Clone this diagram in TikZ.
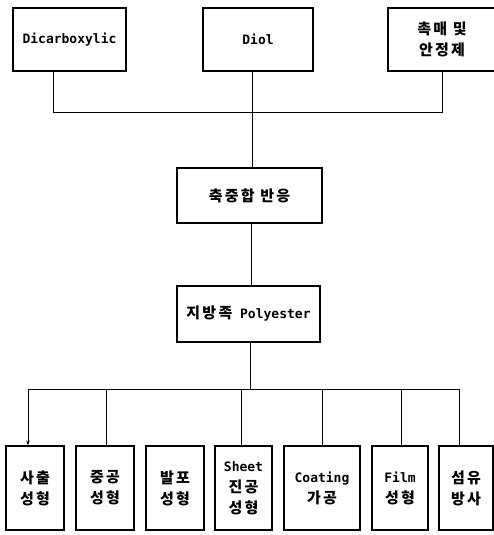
\documentclass[tikz,border=0pt]{standalone}
\usepackage{fontspec}
\setmainfont{DejaVu Sans Mono}
\newfontfamily\kr{Noto Sans CJK KR}[LetterSpace=15]
\usetikzlibrary{arrows.meta}
\newcommand{\K}[1]{{\kr\bfseries\fontsize{15}{21}\selectfont #1}}
\begin{document}
\begin{tikzpicture}[x=1pt,y=-1pt,
  box/.style={draw,line width=1.2pt,inner sep=0pt,align=center,
    font=\fontsize{13}{21}\selectfont\bfseries},
  conn/.style={line width=0.7pt},
  tip/.style={-{Stealth[length=5pt,width=3.5pt]}}]
\useasboundingbox (0,0) rectangle (494,535);
% top row
\node[box,minimum width=113pt,minimum height=63pt] (dic) at (69.5,39.5) {Dicarboxylic};
\node[box,minimum width=110pt,minimum height=63pt] (diol) at (258,39.5) {Diol};
\node[box,minimum width=108pt,minimum height=63pt] (cat) at (442,39.5) {\K{촉매 및}\\\K{안정제}};
% middle
\node[box,minimum width=145pt,minimum height=55pt] (react) at (249.5,195.5) {\K{축중합 반응}};
\node[box,minimum width=143pt,minimum height=56pt] (poly) at (248.5,314) {\K{지방족} Polyester};
% bottom row
\node[box,minimum width=58pt,minimum height=84pt] (b1) at (35,488) {\K{사출}\\\K{성형}};
\node[box,minimum width=58pt,minimum height=84pt] (b2) at (105,488) {\K{중공}\\\K{성형}};
\node[box,minimum width=58pt,minimum height=84pt] (b3) at (175,488) {\K{발포}\\\K{성형}};
\node[box,minimum width=57pt,minimum height=84pt] (b4) at (243.5,488) {Sheet\\\K{진공}\\\K{성형}};
\node[box,minimum width=76pt,minimum height=84pt] (b5) at (322,488) {Coating\\\K{가공}};
\node[box,minimum width=56pt,minimum height=84pt] (b6) at (400,488) {Film\\\K{성형}};
\node[box,minimum width=54pt,minimum height=84pt] (b7) at (466,488) {\K{섬유}\\\K{방사}};
% bus coordinates
\coordinate (topbus) at (0,112);
\coordinate (botbus) at (0,389);
% top connectors
\draw[conn] ([xshift=-16.5pt]dic.south) |- (topbus -| cat.south) -- (cat.south);
\draw[conn] ([xshift=-6pt]diol.south) -- ([xshift=-6pt]diol.south |- react.north);
\draw[conn] ([xshift=1.5pt]react.south) -- ([xshift=1.5pt]react.south |- poly.north);
% bottom connectors
\draw[conn] ([xshift=1.5pt]poly.south) -- ([xshift=1.5pt]poly.south |- botbus);
\draw[conn] ([xshift=-7pt]b1.north |- botbus) -- ([xshift=-6pt]b7.north |- botbus);
\draw[conn,tip] ([xshift=-7pt]b1.north |- botbus) -- ([xshift=-7pt]b1.north);
\draw[conn] ([xshift=1pt]b2.north |- botbus) -- ([xshift=1pt]b2.north);
\draw[conn] ([xshift=-2.5pt]b4.north |- botbus) -- ([xshift=-2.5pt]b4.north);
\draw[conn] (b5.north |- botbus) -- (b5.north);
\draw[conn] ([xshift=1pt]b6.north |- botbus) -- ([xshift=1pt]b6.north);
\draw[conn] ([xshift=-7pt]b7.north |- botbus) -- ([xshift=-7pt]b7.north);
\end{tikzpicture}
\end{document}
